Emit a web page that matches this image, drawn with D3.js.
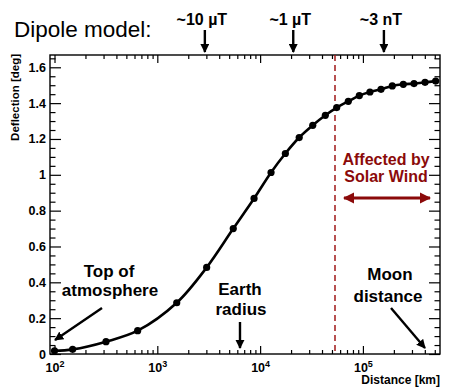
<!DOCTYPE html>
<html><head><meta charset="utf-8">
<script src="https://cdn.jsdelivr.net/npm/d3@7"></script>
<style>
body{margin:0;background:#fff;}
svg{display:block;font-family:Arial,"Liberation Sans",sans-serif;}
</style></head>
<body><div id="chart"></div>
<script>
// ---- data ----
const distanceKm = [100, 150, 317, 644, 1545, 3020, 5480, 8730, 12770, 17600, 24000, 32500, 43100, 55600, 72100, 92300, 117000, 150000, 193000, 247000, 314000, 402000, 510000];
const deflectionDeg = [0.018, 0.026, 0.069, 0.13, 0.286, 0.483, 0.70, 0.868, 1.013, 1.119, 1.208, 1.276, 1.332, 1.375, 1.41, 1.442, 1.462, 1.477, 1.496, 1.505, 1.509, 1.516, 1.523];
const xMajorTicks = [100, 1000, 10000, 100000];
const xTickExponents = ["2", "3", "4", "5"];
const yMajorTicks = [0, 0.2, 0.4, 0.6, 0.8, 1, 1.2, 1.4, 1.6];
const yTickLabels = ["0", "0.2", "0.4", "0.6", "0.8", "1", "1.2", "1.4", "1.6"];
const fieldLabels = ["~10 \u00b5T", "~1 \u00b5T", "~3 nT"];
const fieldDistances = [2900, 21000, 160000];
const solarWindStart = 53500;
const earthRadiusKm = 6371;
const moonDistanceKm = 384000;

const W = 449, H = 388;
const L = 50, R = 440, T = 55, B = 354;

const svg = d3.select("#chart").append("svg").attr("width", W).attr("height", H);
const defs = svg.append("defs");
function mk(id, color){
  defs.append("marker").attr("id", id).attr("viewBox", "0 0 10 10").attr("refX", 9).attr("refY", 5)
    .attr("markerWidth", 3.8).attr("markerHeight", 3.8).attr("orient", "auto-start-reverse")
    .attr("markerUnits", "strokeWidth")
    .append("path").attr("d", "M0,0 L10,5 L0,10 z").attr("fill", color);
}
mk("ab", "#000"); mk("ar", "#8b0a0a");

const x = d3.scaleLog().domain([90.4, 5.62e5]).range([L, R]);
const y = d3.scaleLinear().domain([0, 1.6686]).range([B, T]);

// minor ticks
const xMinor = [];
for (let e = 2; e <= 5; e++) for (let m = 2; m <= 9; m++) { const v = m * Math.pow(10, e); if (v < 5.62e5) xMinor.push(v); }
const yMinor = d3.range(0, 1.66, 0.05).filter(v => Math.abs(v / 0.2 - Math.round(v / 0.2)) > 1e-6);

function styleAxis(g){ g.select(".domain").remove(); g.selectAll(".tick line").attr("stroke", "#000").attr("stroke-width", 1.2); }

// bottom
svg.append("g").attr("transform", `translate(0,${B})`).call(d3.axisBottom(x).tickValues(xMinor).tickSize(-4).tickFormat("")).call(styleAxis);
const gxb = svg.append("g").attr("transform", `translate(0,${B})`).call(d3.axisBottom(x).tickValues(xMajorTicks).tickSize(-8).tickPadding(6).tickFormat("")).call(styleAxis);
gxb.selectAll(".tick text").each(function(d, i){
  const t = d3.select(this).attr("font-size", 12.5).attr("font-weight", "bold").attr("fill", "#000").attr("font-family", "Arial, Liberation Sans, sans-serif").attr("dy", null).attr("y", 17.5);
  t.append("tspan").text("10");
  t.append("tspan").attr("dy", -5).attr("font-size", 9).text(xTickExponents[i]);
});
// top
svg.append("g").attr("transform", `translate(0,${T})`).call(d3.axisTop(x).tickValues(xMinor).tickSize(-4).tickFormat("")).call(styleAxis);
svg.append("g").attr("transform", `translate(0,${T})`).call(d3.axisTop(x).tickValues(xMajorTicks).tickSize(-8).tickFormat("")).call(styleAxis);
// left
svg.append("g").attr("transform", `translate(${L},0)`).call(d3.axisLeft(y).tickValues(yMinor).tickSize(-5.5).tickFormat("")).call(styleAxis);
const gyl = svg.append("g").attr("transform", `translate(${L},0)`).call(d3.axisLeft(y).tickValues(yMajorTicks).tickSize(-11).tickPadding(4).tickFormat((d, i) => yTickLabels[i])).call(styleAxis);
gyl.selectAll(".tick text").attr("x", -4).attr("font-size", 12.5).attr("font-weight", "bold").attr("fill", "#000").attr("font-family", "Arial, Liberation Sans, sans-serif");
// right
svg.append("g").attr("transform", `translate(${R},0)`).call(d3.axisRight(y).tickValues(yMinor).tickSize(-5.5).tickFormat("")).call(styleAxis);
svg.append("g").attr("transform", `translate(${R},0)`).call(d3.axisRight(y).tickValues(yMajorTicks).tickSize(-11).tickFormat("")).call(styleAxis);

// frame
svg.append("rect").attr("x", L).attr("y", T).attr("width", R - L).attr("height", B - T).attr("fill", "none").attr("stroke", "#000").attr("stroke-width", 1.4);

// axis titles
svg.append("text").attr("transform", `translate(19,${T - 1}) rotate(-90)`).attr("text-anchor", "end")
  .attr("font-size", 11.5).attr("font-weight", "bold").text("Deflection [deg]");
svg.append("text").attr("x", R).attr("y", 384).attr("text-anchor", "end")
  .attr("font-size", 12).attr("font-weight", "bold").text("Distance [km]");

// solar wind dashed line
svg.append("line").attr("x1", x(solarWindStart)).attr("x2", x(solarWindStart)).attr("y1", T).attr("y2", B)
  .attr("stroke", "#a01818").attr("stroke-width", 1.5).attr("stroke-dasharray", "6,4");

// curve + points
const pts = distanceKm.map((d, i) => [x(d), y(deflectionDeg[i])]);
svg.append("path").attr("d", d3.line().curve(d3.curveCatmullRom.alpha(0.5))(pts))
  .attr("fill", "none").attr("stroke", "#000").attr("stroke-width", 2.6);
svg.append("g").selectAll("circle").data(pts).join("circle")
  .attr("cx", d => d[0]).attr("cy", d => d[1]).attr("r", 3.6).attr("fill", "#000");

// title
svg.append("text").attr("x", 14).attr("y", 37).attr("font-size", 22.5).text("Dipole model:");
fieldLabels.forEach((lab, i) => {
  const xx = x(fieldDistances[i]);
  svg.append("text").attr("x", xx - 3).attr("y", 25).attr("text-anchor", "middle").attr("font-size", 16).attr("font-weight", "bold").text(lab);
  svg.append("line").attr("x1", xx).attr("x2", xx).attr("y1", 30).attr("y2", 52)
    .attr("stroke", "#000").attr("stroke-width", 2.4).attr("marker-end", "url(#ab)");
});

// solar wind annotation
const swc = 386;
svg.append("text").attr("x", swc).attr("y", 165).attr("text-anchor", "middle").attr("font-size", 16).attr("font-weight", "bold").attr("fill", "#8b0a0a").text("Affected by");
svg.append("text").attr("x", swc).attr("y", 182).attr("text-anchor", "middle").attr("font-size", 16).attr("font-weight", "bold").attr("fill", "#8b0a0a").text("Solar Wind");
svg.append("line").attr("x1", 344).attr("x2", 430).attr("y1", 198).attr("y2", 198)
  .attr("stroke", "#8b0a0a").attr("stroke-width", 3).attr("marker-start", "url(#ar)").attr("marker-end", "url(#ar)");

// Top of atmosphere
svg.append("text").attr("x", 109).attr("y", 277).attr("text-anchor", "middle").attr("font-size", 17).attr("font-weight", "bold").text("Top of");
svg.append("text").attr("x", 110).attr("y", 296).attr("text-anchor", "middle").attr("font-size", 17).attr("font-weight", "bold").text("atmosphere");
svg.append("line").attr("x1", 102).attr("y1", 308).attr("x2", 55).attr("y2", 340)
  .attr("stroke", "#000").attr("stroke-width", 2.4).attr("marker-end", "url(#ab)");

// Earth radius
const ex = x(earthRadiusKm);
svg.append("text").attr("x", ex).attr("y", 295).attr("text-anchor", "middle").attr("font-size", 17).attr("font-weight", "bold").text("Earth");
svg.append("text").attr("x", ex + 1).attr("y", 315).attr("text-anchor", "middle").attr("font-size", 17).attr("font-weight", "bold").text("radius");
svg.append("line").attr("x1", ex).attr("x2", ex).attr("y1", 322).attr("y2", 348)
  .attr("stroke", "#000").attr("stroke-width", 2.4).attr("marker-end", "url(#ab)");

// Moon distance
svg.append("text").attr("x", 390).attr("y", 280).attr("text-anchor", "middle").attr("font-size", 17).attr("font-weight", "bold").text("Moon");
svg.append("text").attr("x", 388).attr("y", 302).attr("text-anchor", "middle").attr("font-size", 17).attr("font-weight", "bold").text("distance");
svg.append("line").attr("x1", 391).attr("y1", 308).attr("x2", x(moonDistanceKm) + 2).attr("y2", 348)
  .attr("stroke", "#000").attr("stroke-width", 2.4).attr("marker-end", "url(#ab)");
</script></body></html>
